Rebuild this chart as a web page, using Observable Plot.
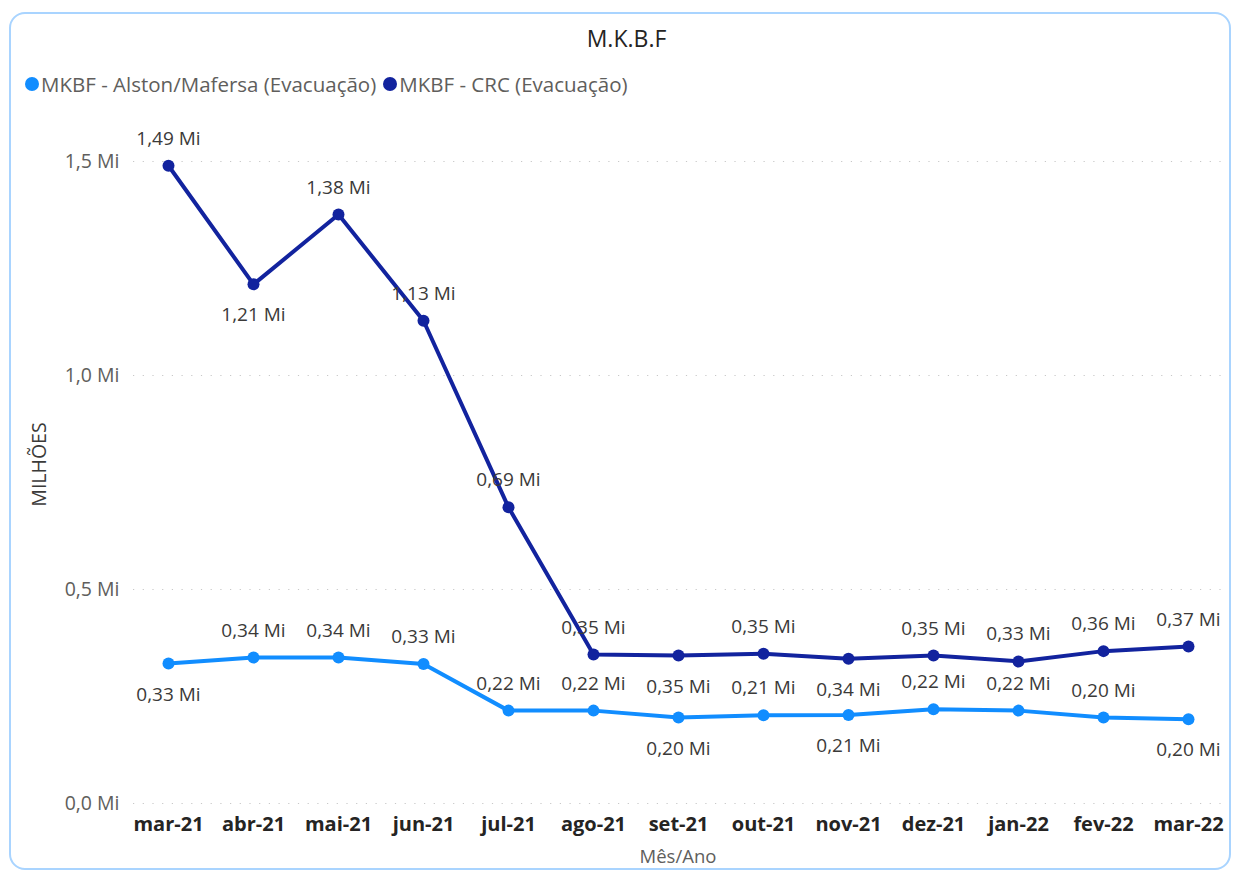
<!DOCTYPE html>
<html><head><meta charset="utf-8">
<script src="https://cdn.jsdelivr.net/npm/d3@7"></script>
<script src="https://cdn.jsdelivr.net/npm/@observablehq/plot@0.6"></script>
<style>
body{margin:0;width:1233px;height:872px;overflow:hidden;background:#fff;font-family:"Open Sans",sans-serif;position:relative}
#frame{position:absolute;left:9px;top:12px;width:1222px;height:858px;box-sizing:border-box;border:2px solid #a9d4ff;border-radius:16px}
#title{position:absolute;left:0;width:1253px;top:22px;text-align:center;font-size:23px;color:#252423}
#legend{position:absolute;left:25px;top:70px;font-size:20.5px;color:#605E5C;display:flex;align-items:center;white-space:nowrap}
#legend .sw{display:inline-block;width:14px;height:14px;border-radius:50%;margin-right:2px}
#legend .it{display:flex;align-items:center;margin-right:7px}
#chart{position:absolute;left:0;top:100px}
</style></head>
<body>
<div id="frame"></div>
<div id="title">M.K.B.F</div>
<div id="legend"></div>
<div id="chart"></div>
<script>
const months = ["mar-21","abr-21","mai-21","jun-21","jul-21","ago-21","set-21","out-21","nov-21","dez-21","jan-22","fev-22","mar-22"];
const seriesNames = ["MKBF - Alston/Mafersa (Evacuação)","MKBF - CRC (Evacuação)"];
const seriesColors = ["#118DFF","#12239E"];
const alston = [0.327,0.341,0.341,0.326,0.217,0.217,0.201,0.206,0.207,0.220,0.217,0.201,0.197];
const crc = [1.490,1.213,1.376,1.128,0.692,0.348,0.346,0.350,0.338,0.346,0.332,0.356,0.367];
const alstonLabelBelow = [true,false,false,false,false,false,true,false,true,false,false,false,true];
const crcLabelBelow = [false,true,false,false,false,false,true,false,true,false,false,false,false];
const yTicks = [0,0.5,1.0,1.5];

const rows = [];
[alston, crc].forEach((vals, s) => {
  const below = s === 0 ? alstonLabelBelow : crcLabelBelow;
  vals.forEach((v, i) => rows.push({month: months[i], value: v, series: seriesNames[s], below: below[i]}));
});

const fmtLabel = v => v.toFixed(2).replace(".", ",") + " Mi";
const fmtTick = v => v.toFixed(1).replace(".", ",") + " Mi";

const leg = document.getElementById("legend");
seriesNames.forEach((n, i) => {
  const it = document.createElement("span"); it.className = "it";
  it.innerHTML = `<span class="sw" style="background:${seriesColors[i]}"></span>${n}`;
  leg.appendChild(it);
});

const chart = Plot.plot({
  width: 1233, height: 772,
  marginLeft: 133, marginRight: 11, marginTop: 61, marginBottom: 69,
  style: {fontFamily: "'Open Sans', sans-serif", fontSize: "16px", background: "transparent"},
  x: {type: "point", domain: months, padding: 0.4, label: null},
  y: {domain: [0, 1.5], label: null},
  color: {domain: seriesNames, range: seriesColors},
  marks: [
    Plot.gridY(yTicks, {stroke: "#c8c8c8", strokeOpacity: 1, strokeWidth: 1.2, strokeDasharray: "1.2,8.5"}),
    Plot.axisY(yTicks, {tickSize: 0, tickPadding: 14, tickFormat: fmtTick, fill: "#605E5C", fontSize: 19.5,
      label: "MILHÕES", labelArrow: false, labelAnchor: "center", labelOffset: 101}),
    Plot.axisX({tickSize: 0, tickPadding: 13, fontWeight: "bold", fill: "#252423", fontSize: 20,
      label: null}),
    Plot.axisX({tickSize: 0, ticks: [], label: "Mês/Ano", labelArrow: false, labelAnchor: "center", labelOffset: 59,
      fontSize: 18.5, fill: "#605E5C"}),
    Plot.line(rows, {x: "month", y: "value", z: "series", stroke: "series", strokeWidth: 4}),
    Plot.dot(rows, {x: "month", y: "value", fill: "series", r: 6}),
    Plot.text(rows.filter(d => !d.below), {x: "month", y: "value", text: d => fmtLabel(d.value), dy: -27, fill: "#3b3a39", fontSize: 19}),
    Plot.text(rows.filter(d => d.below), {x: "month", y: "value", text: d => fmtLabel(d.value), dy: 31, fill: "#3b3a39", fontSize: 19})
  ]
});
chart.querySelectorAll("[aria-label='y-axis label']").forEach(g => {
  g.setAttribute("fill", "#3b3a39"); g.setAttribute("font-size", "19.5");
  g.querySelectorAll("text").forEach(t => {t.setAttribute("fill", "#3b3a39"); t.setAttribute("font-size", "19.5"); t.setAttribute("dx", "18");});
});
document.getElementById("chart").appendChild(chart);
</script>
</body></html>
